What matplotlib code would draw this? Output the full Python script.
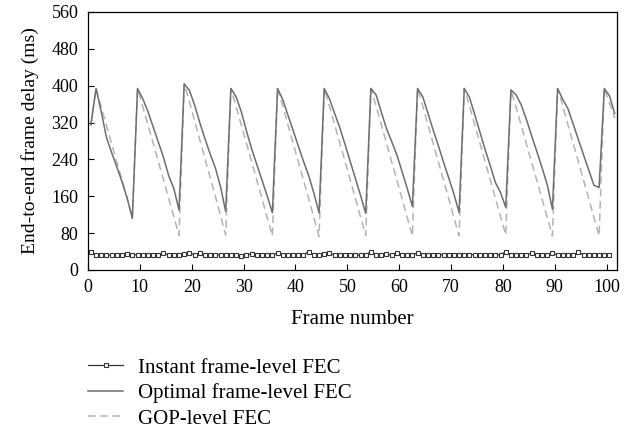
"""End-to-end frame delay per frame for three FEC schemes."""
import matplotlib
matplotlib.use("Agg")
import matplotlib.pyplot as plt
import numpy as np

# delay in ms, one value per frame
optimal_fec = [
    315, 394, 344, 288, 255, 224, 192, 156, 112,
    394, 372, 344, 311, 278, 245, 205, 177, 130,
    404, 390, 358, 320, 285, 252, 222, 181, 127,
    394, 376, 344, 302, 263, 229, 195, 161, 124,
    394, 370, 336, 303, 269, 236, 205, 167, 124,
    394, 372, 340, 309, 273, 236, 199, 162, 123,
    394, 380, 343, 307, 279, 250, 214, 177, 138,
    394, 376, 340, 304, 270, 234, 200, 165, 125,
    394, 375, 338, 300, 262, 227, 190, 168, 136,
    391, 380, 358, 326, 291, 257, 222, 185, 132,
    394, 370, 350, 317, 283, 250, 217, 184, 179,
    394, 378, 340,
]
gop_fec = [
    315, 394, 354, 314, 274, 234, 196, 156, 112,
    394, 355, 315, 276, 236, 196, 156, 116, 75,
    404, 366, 324, 283, 242, 201, 160, 118, 76,
    394, 356, 315, 275, 235, 195, 155, 114, 74,
    394, 356, 315, 275, 235, 195, 155, 114, 73,
    394, 356, 316, 276, 236, 196, 156, 115, 75,
    394, 356, 316, 275, 235, 195, 155, 114, 74,
    394, 356, 315, 275, 235, 195, 155, 114, 74,
    394, 356, 316, 276, 236, 196, 156, 116, 76,
    391, 353, 313, 273, 233, 194, 154, 114, 74,
    394, 356, 315, 275, 235, 195, 155, 114, 74,
    394, 362, 330,
]
instant_fec = [
    38, 33, 33, 32, 33, 33, 33, 34, 33, 33,
    33, 33, 33, 33, 36, 33, 32, 33, 34, 36,
    33, 37, 33, 32, 33, 33, 33, 32, 33, 31,
    33, 35, 33, 33, 33, 33, 36, 33, 33, 33,
    33, 33, 40, 32, 33, 34, 36, 33, 33, 33,
    32, 33, 32, 33, 40, 33, 33, 34, 32, 36,
    33, 33, 33, 37, 33, 33, 33, 33, 33, 33,
    33, 33, 33, 33, 33, 33, 33, 33, 33, 33,
    40, 33, 33, 33, 33, 37, 33, 33, 33, 36,
    33, 33, 33, 33, 38, 33, 33, 33, 33, 33,
    33,
]
y_ticks = [0, 80, 160, 240, 320, 400, 480, 560]
x_ticks = [0, 10, 20, 30, 40, 50, 60, 70, 80, 90, 100]

plt.rcParams["font.family"] = ["Liberation Serif", "DejaVu Serif"]

frames_opt = np.arange(len(optimal_fec)) + 0.55
frames_inst = np.arange(len(instant_fec)) + 0.55

fig = plt.figure(figsize=(6.38, 4.34), dpi=100)
ax = fig.add_axes([88 / 638, 1 - 270 / 434, 529 / 638, 258 / 434])

ax.plot(frames_inst, instant_fec, color="#333333", linewidth=0.9,
        marker="s", markersize=3.0, markerfacecolor="white",
        markeredgecolor="#333333", markeredgewidth=0.8,
        label="Instant frame-level FEC", zorder=3)
ax.plot(frames_opt, gop_fec, color="#b4b4b4", linewidth=1.1,
        linestyle=(0, (5, 3)), label="GOP-level FEC", zorder=1)
ax.plot(frames_opt, optimal_fec, color="#6e6e6e", linewidth=1.1,
        label="Optimal frame-level FEC", zorder=2)

ax.set_xlim(0, 102)
ax.set_ylim(0, 560)
ax.set_xticks(x_ticks)
ax.set_yticks(y_ticks)
ax.tick_params(direction="in", length=4, width=0.8, top=False, right=False,
               labelsize=13)
ax.tick_params(axis="x", pad=6.5)
ax.tick_params(axis="y", pad=7)
for sp in ax.spines.values():
    sp.set_linewidth(0.9)
ax.set_xlabel("Frame number", fontsize=15, labelpad=10)
ax.set_ylabel("End-to-end frame delay (ms)", fontsize=14, labelpad=9)

handles, labels = ax.get_legend_handles_labels()
order = [0, 2, 1]
fig.legend([handles[i] for i in order], [labels[i] for i in order],
           loc="upper left", bbox_to_anchor=(88 / 638, 1 - 358 / 434),
           frameon=False, fontsize=15, handlelength=1.7, handletextpad=0.72,
           labelspacing=0.28, borderpad=0, borderaxespad=0)

fig.savefig("out.png", dpi=100)
